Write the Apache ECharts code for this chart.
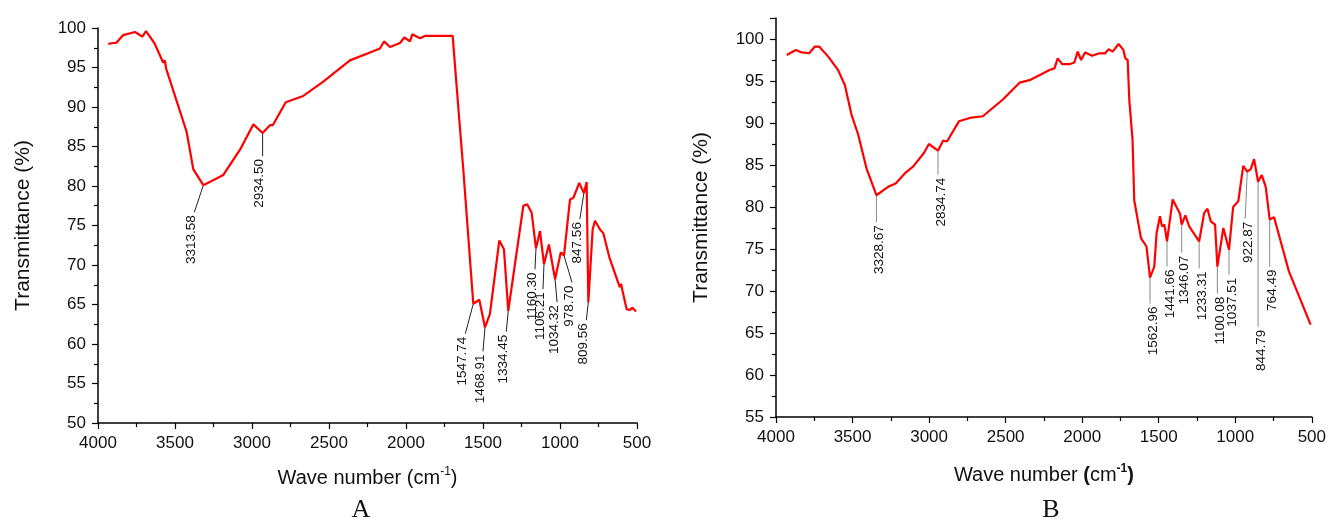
<!DOCTYPE html>
<html>
<head>
<meta charset="utf-8">
<script src="https://cdn.jsdelivr.net/npm/echarts@6/dist/echarts.min.js"></script>
<style>
  html, body { margin: 0; padding: 0; background: #fff; }
  #chart { width: 1329px; height: 525px; }
</style>
</head>
<body>
<div id="chart"></div>
<script>
// panel A spectrum (wave number, transmittance %)
const wnA = [3933, 3900, 3883, 3836, 3760, 3712, 3688, 3634, 3576, 3566, 3558, 3425, 3381, 3316,
  3186, 3078, 2991, 2931, 2883, 2865, 2781, 2667, 2537, 2364, 2234, 2169, 2143, 2104, 2039, 2011,
  1974, 1959, 1909, 1877, 1697, 1654, 1628, 1563, 1524, 1487, 1455, 1394, 1364, 1336, 1238, 1213,
  1184, 1156, 1130, 1104, 1072, 1032, 995, 974, 935, 913, 875, 845, 827, 816, 788, 773, 740, 718,
  680, 612, 603, 595, 567, 555, 546, 530, 506];
const tA = [98.0, 98.1, 98.1, 99.1, 99.5, 98.9, 99.6, 98.1, 95.6, 95.9, 94.9, 86.9, 82.1, 80.1,
  81.4, 84.6, 87.8, 86.7, 87.7, 87.7, 90.6, 91.4, 93.2, 95.9, 96.9, 97.4, 98.3, 97.6, 98.1, 98.8,
  98.3, 99.2, 98.7, 99.0, 99.0, 88.4, 82.1, 65.1, 65.6, 62.1, 63.8, 73.1, 72.0, 64.2, 77.5, 77.7,
  76.6, 72.1, 74.3, 70.1, 72.6, 68.2, 71.6, 71.2, 78.3, 78.5, 80.4, 79.1, 80.5, 65.3, 74.5, 75.6, 74.5, 74.0,
  71.0, 67.2, 67.6, 66.8, 64.4, 64.5, 64.3, 64.6, 64.1];
const peakAtA = [3316, 2931, 1563, 1487, 1336, 1156, 1104, 1032, 974, 845, 816];
const peakTextA = ['3313.58', '2934.50', '1547.74', '1468.91', '1334.45', '1160.30', '1106.21',
  '1034.32', '978.70', '847.56', '809.56'];

// panel B spectrum
const wnB = [3930, 3870, 3832, 3783, 3746, 3718, 3659, 3594, 3550, 3507, 3463, 3409, 3344, 3268,
  3218, 3159, 3105, 3035, 3001, 2942, 2909, 2883, 2805, 2735, 2649, 2518, 2409, 2344, 2257, 2214,
  2181, 2160, 2131, 2083, 2051, 2029, 2007, 1981, 1935, 1888, 1849, 1827, 1801, 1762, 1731, 1718,
  1703, 1692, 1671, 1660, 1616, 1580, 1557, 1529, 1514, 1492, 1479, 1463, 1446, 1409, 1361, 1350,
  1326, 1301, 1236, 1203, 1182, 1160, 1132, 1117, 1078, 1041, 1014, 980, 948, 922, 899, 877, 851,
  827, 801, 775, 747, 649, 508];
const tB = [98.1, 98.7, 98.4, 98.3, 99.1, 99.1, 97.9, 96.3, 94.5, 91.0, 88.6, 84.6, 81.4, 82.4,
  82.8, 84.0, 84.8, 86.4, 87.5, 86.7, 87.9, 87.8, 90.2, 90.6, 90.8, 92.8, 94.8, 95.1, 95.9, 96.3,
  96.5, 97.7, 97.0, 97.0, 97.2, 98.5, 97.5, 98.4, 98.0, 98.3, 98.3, 98.8, 98.5, 99.4, 98.7, 97.7,
  97.5, 92.7, 88.0, 80.8, 76.3, 75.3, 71.6, 72.9, 76.9, 78.9, 77.7, 77.9, 75.9, 80.9, 79.2, 77.9,
  79.0, 77.7, 75.9, 79.3, 79.8, 78.3, 77.9, 72.9, 77.5, 74.9, 80.0, 80.7, 84.9, 84.2, 84.5, 85.7, 83.0,
  83.8, 82.4, 78.5, 78.8, 72.3, 66.0];
const peakAtB = [3344, 2942, 1557, 1446, 1350, 1236, 1117, 1041, 922, 851, 775];
const peakTextB = ['3328.67', '2834.74', '1562.96', '1441.66', '1346.07', '1233.31', '1100.08',
  '1037.51', '922.87', '844.79', '764.49'];

const xTicks = [500, 4000, 500];      // min, max, interval
const yTicksA = [50, 100, 5];
const yTicksB = [55, 102.5, 5];

// leader line offsets in px [dx, dy] for each label
const leadA = [[-9, 27], [0, 23], [-8, 30], [-2, 24], [-2, 21], [-1, 21], [-1, 25], [2, 23], [8, 27], [-4, 26], [-2, 18]];
const leadB = [[0, 27], [0, 24], [0, 26], [0, 25], [0, 28], [0, 27], [0, 27], [0, 25], [-2, 47], [0, 145], [0, 47]];

const FONT = '"Liberation Sans", Arial, sans-serif';

function pairs(xs, ys) {
  return xs.map((x, i) => [x, ys[i]]);
}

function valueAt(xs, ys, w) {
  for (let i = 0; i < xs.length - 1; i++) {
    if ((xs[i] - w) * (xs[i + 1] - w) <= 0) {
      const f = (w - xs[i]) / (xs[i + 1] - xs[i]);
      return ys[i] + f * (ys[i + 1] - ys[i]);
    }
  }
  return ys[ys.length - 1];
}

function labelSeries(idx, xs, ys, at, texts, leads, lineColor, shift) {
  return {
    type: 'custom',
    xAxisIndex: idx,
    yAxisIndex: idx,
    silent: true,
    data: at.map(w => [w, valueAt(xs, ys, w)]),
    renderItem: function (params, api) {
      const p = api.coord([api.value(0), api.value(1)]);
      const l = leads[params.dataIndex];
      const ex = p[0] + l[0], ey = p[1] + l[1];
      return {
        type: 'group',
        children: [{
          type: 'line',
          shape: { x1: p[0], y1: p[1], x2: ex, y2: ey },
          style: { stroke: lineColor, lineWidth: 1 }
        }, {
          type: 'text',
          x: ex + shift,
          y: ey + 3,
          rotation: Math.PI / 2,
          style: {
            text: texts[params.dataIndex],
            align: 'right',
            verticalAlign: 'middle',
            font: '13.5px ' + FONT,
            fill: '#111'
          }
        }]
      };
    }
  };
}

function xAxis(idx, gap, bold) {
  return {
    type: 'value',
    gridIndex: idx,
    min: xTicks[0], max: xTicks[1], interval: xTicks[2],
    inverse: true,
    name: bold ? '{n|Wave number }{b|(}{n|cm}{sb|-1}{b|)}' : '{n|Wave number (cm}{s|-1}{n|)}',
    nameLocation: 'middle',
    nameGap: gap,
    nameTextStyle: {
      rich: {
        n: { fontFamily: FONT, fontSize: 20, lineHeight: 24, color: '#111' },
        b: { fontFamily: FONT, fontSize: 20, lineHeight: 24, color: '#111', fontWeight: 'bold' },
        s: { fontFamily: FONT, fontSize: 12, lineHeight: 14, verticalAlign: 'top', color: '#111' },
        sb: { fontFamily: FONT, fontSize: 12, lineHeight: 14, verticalAlign: 'top', color: '#111', fontWeight: 'bold' }
      }
    },
    axisLine: { show: true, onZero: false, lineStyle: { color: '#000', width: 1.5 } },
    axisTick: { show: true, inside: false, length: 6, lineStyle: { color: '#000', width: 1.2 } },
    minorTick: { show: true, splitNumber: 2, length: 4, lineStyle: { color: '#000', width: 1.2 } },
    axisLabel: { margin: 12, fontFamily: FONT, fontSize: 17, color: '#111', formatter: v => String(v) },
    splitLine: { show: false }
  };
}

function yAxis(idx, ticks) {
  return {
    type: 'value',
    gridIndex: idx,
    min: ticks[0], max: ticks[1], interval: ticks[2],
    name: 'Transmittance (%)',
    nameLocation: 'middle',
    nameGap: 64,
    nameTextStyle: { fontFamily: FONT, fontSize: 21, color: '#111' },
    axisLine: { show: true, onZero: false, lineStyle: { color: '#000', width: 1.5 } },
    axisTick: { show: true, inside: false, length: 6, lineStyle: { color: '#000', width: 1.2 } },
    minorTick: { show: true, splitNumber: 2, length: 4, lineStyle: { color: '#000', width: 1.2 } },
    axisLabel: { margin: 12, fontFamily: FONT, fontSize: 17, color: '#111', showMaxLabel: ticks[1] % ticks[2] === 0 },
    splitLine: { show: false }
  };
}

const chart = echarts.init(document.getElementById('chart'), null, { renderer: 'canvas' });
chart.setOption({
  animation: false,
  backgroundColor: '#fff',
  grid: [
    { left: 98, top: 28, width: 539, height: 395 },
    { left: 776, top: 18, width: 537, height: 399 }
  ],
  xAxis: [xAxis(0, 43, false), xAxis(1, 46, true)],
  yAxis: [yAxis(0, yTicksA), yAxis(1, yTicksB)],
  graphic: [
    { type: 'text', x: 361, y: 510, style: { text: 'A', font: '26px "Liberation Serif", serif', fill: '#111', align: 'center', verticalAlign: 'middle' } },
    { type: 'text', x: 1051, y: 510, style: { text: 'B', font: '26px "Liberation Serif", serif', fill: '#111', align: 'center', verticalAlign: 'middle' } }
  ],
  series: [
    {
      type: 'line', xAxisIndex: 0, yAxisIndex: 0,
      data: pairs(wnA, tA), showSymbol: false, symbol: 'none',
      lineStyle: { color: '#ff0000', width: 2.2 }
    },
    {
      type: 'line', xAxisIndex: 1, yAxisIndex: 1,
      data: pairs(wnB, tB), showSymbol: false, symbol: 'none',
      lineStyle: { color: '#ff0000', width: 2.2 }
    },
    labelSeries(0, wnA, tA, peakAtA, peakTextA, leadA, '#222', -3),
    labelSeries(1, wnB, tB, peakAtB, peakTextB, leadB, '#888', 3)
  ]
});
</script>
</body>
</html>
